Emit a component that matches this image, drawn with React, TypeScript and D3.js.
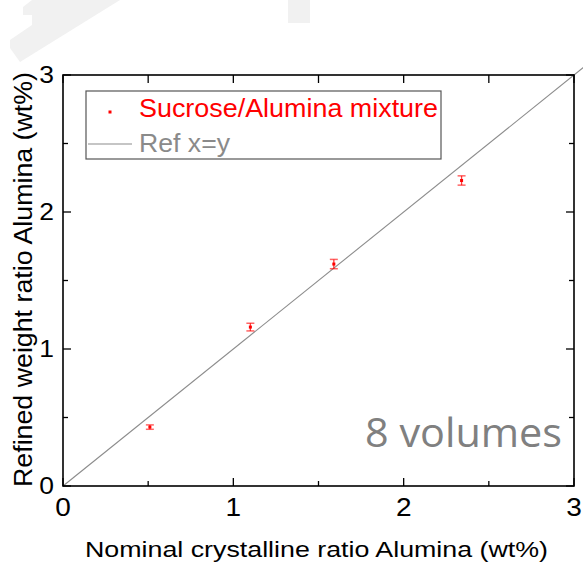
import React from "react";
import * as d3 from "d3";

const nominal = [0.51, 1.1, 1.59, 2.34];
const refined = [0.43, 1.16, 1.62, 2.23];
const errors = [0.016, 0.028, 0.034, 0.034];
const majorTicks = [0, 1, 2, 3];
const minorTicks = [0.5, 1.5, 2.5];
const seriesName = "Sucrose/Alumina mixture";
const refName = "Ref x=y";
const xTitle = "Nominal crystalline ratio Alumina (wt%)";
const yTitle = "Refined weight ratio Alumina (wt%)";
const annotation = "8 volumes";

const W = 583;
const H = 564;
const left = 63, right = 574, top = 75, bottom = 486;

export default function App() {
  const x = d3.scaleLinear().domain([0, 3]).range([left, right]);
  const y = d3.scaleLinear().domain([0, 3]).range([bottom, top]);
  const refLine = d3.line<number>().x((d) => x(d)).y((d) => y(d));
  const arial = "'Liberation Sans', Arial, sans-serif";
  const red = "#ff0000";
  const gray = "#8a8a8a";
  const majorLen = 8, minorLen = 5;

  return (
    <div style={{ position: "absolute", left: 0, top: 0 }}>
      <svg width={W} height={H} style={{ display: "block", background: "#fff" }}>
        {/* faint watermark shapes */}
        <polygon points="32,0 120,0 20,62 10,48 10,40 32,25 32,15 23,15 23,7" fill="#f1f1f1" />
        <rect x={288} y={0} width={22} height={23} fill="#f1f1f1" />

        {/* reference line */}
        <path d={refLine([0, 3.07]) || ""} stroke="#8c8c8c" strokeWidth={1.1} fill="none" />

        {/* axes frame */}
        <rect x={left} y={top} width={right - left} height={bottom - top} fill="none" stroke="#000" strokeWidth={1.6} />

        {/* ticks */}
        {majorTicks.map((t) => (
          <g key={"M" + t}>
            <line x1={x(t)} x2={x(t)} y1={bottom} y2={bottom - majorLen} stroke="#000" strokeWidth={1.3} />
            <line x1={x(t)} x2={x(t)} y1={top} y2={top + majorLen} stroke="#000" strokeWidth={1.3} />
            <line x1={left} x2={left + majorLen} y1={y(t)} y2={y(t)} stroke="#000" strokeWidth={1.3} />
            <line x1={right} x2={right - majorLen} y1={y(t)} y2={y(t)} stroke="#000" strokeWidth={1.3} />
          </g>
        ))}
        {minorTicks.map((t) => (
          <g key={"m" + t}>
            <line x1={x(t)} x2={x(t)} y1={bottom} y2={bottom - minorLen} stroke="#000" strokeWidth={1.3} />
            <line x1={x(t)} x2={x(t)} y1={top} y2={top + majorLen} stroke="#000" strokeWidth={1.3} />
            <line x1={left} x2={left + minorLen} y1={y(t)} y2={y(t)} stroke="#000" strokeWidth={1.3} />
            <line x1={right} x2={right - minorLen} y1={y(t)} y2={y(t)} stroke="#000" strokeWidth={1.3} />
          </g>
        ))}

        {/* tick labels */}
        {majorTicks.map((t) => (
          <text key={"xl" + t} x={x(t)} y={516} textAnchor="middle" fontFamily={arial} fontSize={25}
            transform={`translate(${x(t)},0) scale(1.12,1) translate(${-x(t)},0)`}>{t}</text>
        ))}
        {majorTicks.map((t) => (
          <text key={"yl" + t} x={54} y={y(t) + 8.5} textAnchor="end" fontFamily={arial} fontSize={23}
            transform={`translate(54,0) scale(1.15,1) translate(-54,0)`}>{t}</text>
        ))}

        {/* axis titles */}
        <text x={85} y={557} fontFamily={arial} fontSize={22} textLength={463} lengthAdjust="spacingAndGlyphs">{xTitle}</text>
        <text transform={`translate(32,487) rotate(-90)`} x={0} y={0} fontFamily={arial} fontSize={26}
          textLength={415} lengthAdjust="spacingAndGlyphs">{yTitle}</text>

        {/* error bars and points */}
        {nominal.map((v, i) => {
          const cx = x(v);
          const y1 = y(refined[i] - errors[i]);
          const y2 = y(refined[i] + errors[i]);
          return (
            <g key={"p" + i}>
              <line x1={cx} x2={cx} y1={y1} y2={y2} stroke={red} strokeWidth={1.3} opacity={0.75} />
              <line x1={cx - 4} x2={cx + 4} y1={y1} y2={y1} stroke={red} strokeWidth={1.5} opacity={0.6} />
              <line x1={cx - 4} x2={cx + 4} y1={y2} y2={y2} stroke={red} strokeWidth={1.5} opacity={0.6} />
              <rect x={cx - 1.5} y={y(refined[i]) - 1.5} width={3} height={3} fill={red} />
            </g>
          );
        })}

        {/* legend */}
        <rect x={86} y={91} width={355} height={68} fill="#fff" stroke="#555" strokeWidth={1.2} />
        <rect x={108.5} y={110.5} width={3} height={3} fill={red} />
        <text x={139} y={117} fontFamily={arial} fontSize={26} fill={red} textLength={299} lengthAdjust="spacingAndGlyphs">{seriesName}</text>
        <line x1={88} x2={132} y1={144} y2={144} stroke="#8c8c8c" strokeWidth={1.1} />
        <text x={139} y={151.5} fontFamily={arial} fontSize={26} fill={gray} textLength={91} lengthAdjust="spacingAndGlyphs">{refName}</text>

        {/* annotation */}
        <text x={365} y={447} fontFamily="'Open Sans', sans-serif" fontSize={40} fill="#808080" textLength={197} lengthAdjust="spacingAndGlyphs">{annotation}</text>
      </svg>
    </div>
  );
}
